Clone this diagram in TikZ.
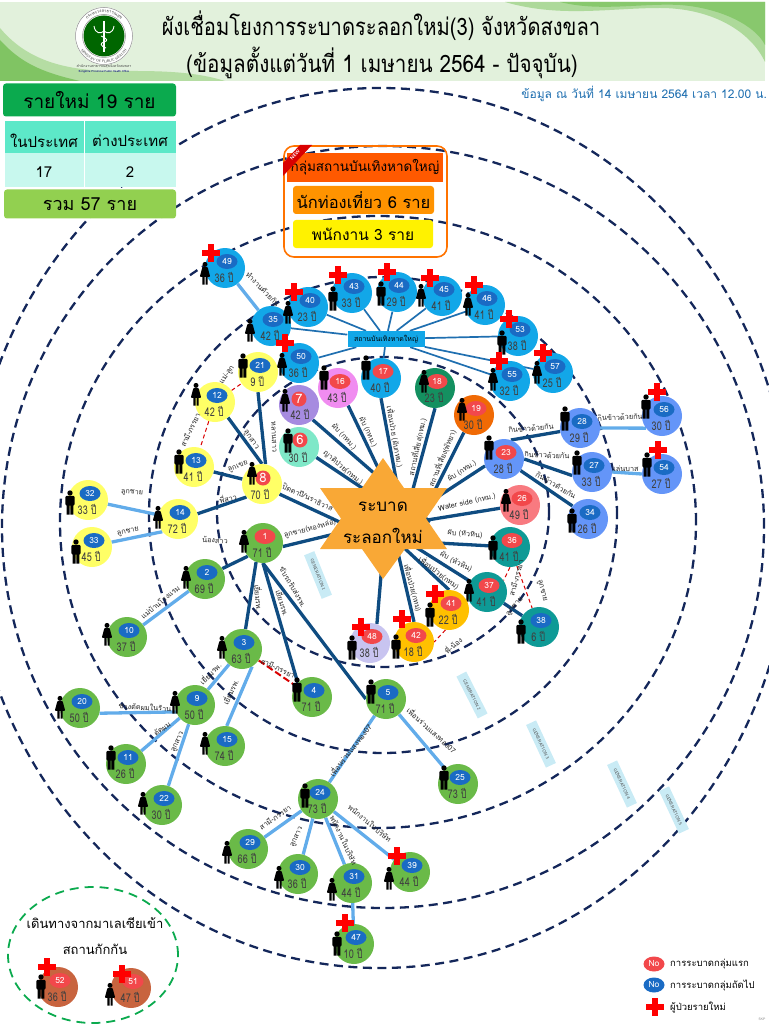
\documentclass[tikz,border=0pt]{standalone}
\usepackage{fontspec}
\setmainfont[Script=Thai]{Loma}
\usetikzlibrary{shapes.geometric,decorations.text}
\pgfdeclarelayer{back}\pgfdeclarelayer{mid}
\pgfsetlayers{back,mid,main}
\definecolor{navyd}{HTML}{14275A}
\definecolor{hdr}{HTML}{E2F1DC}
\definecolor{skyc}{HTML}{12A7E8}
\definecolor{yelc}{HTML}{FFFF66}
\definecolor{perc}{HTML}{6495F8}
\definecolor{grnc}{HTML}{6ABA48}
\definecolor{teac}{HTML}{0E9A96}
\definecolor{gldc}{HTML}{FFC000}
\definecolor{brnc}{HTML}{C8643F}
\definecolor{redn}{HTML}{F2484B}
\definecolor{blun}{HTML}{1A6BC4}
\definecolor{dkline}{HTML}{0F4C81}
\definecolor{ltline}{HTML}{62ACEA}
\definecolor{mdline}{HTML}{1F6FB0}
\definecolor{starc}{HTML}{F9A836}
\definecolor{gencol}{HTML}{C9EBF5}
\definecolor{boxnew}{HTML}{0BAA4E}
\definecolor{boxsum}{HTML}{92D050}
\definecolor{tblhd}{HTML}{5DE8C8}
\definecolor{tbldt}{HTML}{C8F8EE}
\definecolor{pnkc}{HTML}{F08CF0}
\definecolor{vioc}{HTML}{A68BE0}
\definecolor{minc}{HTML}{7FE8C8}
\definecolor{dgrc}{HTML}{149060}
\definecolor{ornc}{HTML}{F06A05}
\definecolor{salc}{HTML}{F87A80}
\definecolor{lavc}{HTML}{C8C4F0}
\tikzset{
 gen/.style={draw=navyd,line width=2.3pt,dash pattern=on 9pt off 5.5pt},
 casecirc/.style={circle,minimum size=40pt,inner sep=0pt},
 numoval/.style={ellipse,minimum width=21pt,minimum height=15pt,inner sep=0pt,text=white,font=\fontsize{8.5}{9}\selectfont},
 numdisc/.style={circle,minimum size=15pt,inner sep=0pt,text=white,fill=redn,font=\fontsize{13}{13}\selectfont},
 agetext/.style={inner sep=0pt,text=black!75,xscale=.76,font=\fontsize{12}{12}\selectfont},
 rellabel/.style={inner sep=0pt,text=black!85,font=\fontsize{7.3}{8}\selectfont},
 genlabel/.style={fill=gencol,minimum width=47pt,minimum height=11pt,inner sep=0pt,text=black!70,font=\sffamily\fontsize{4.5}{5}\selectfont},
 strong/.style={draw=dkline,line width=3.3pt},
 pale/.style={draw=ltline,line width=3.3pt},
 venue/.style={draw=mdline,line width=1.7pt},
 redlink/.style={draw=red!85!black,line width=1pt,dash pattern=on 4pt off 3pt},
 panel/.style={rounded corners=3pt,inner sep=0pt,text=black},
 manicon/.pic={\fill[black] (0,-9) circle (2.7);
   \fill[black,rounded corners=1.2pt] (-4.6,-6.2) rectangle (4.6,3.5);
   \fill[black] (-3.4,2) rectangle (-0.3,12.5) (0.3,2) rectangle (3.4,12.5);},
 womanicon/.pic={\fill[black] (0,-8.6) circle (2.5);
   \fill[black,rounded corners=0.8pt] (-2.6,-6) -- (2.6,-6) -- (5.2,3.8) -- (-5.2,3.8) -- cycle;
   \fill[black] (-2.6,3) rectangle (-0.5,11.5) (0.5,3) rectangle (2.6,11.5);},
 pluscross/.pic={\draw[red,line width=5.8pt] (-9,0) -- (9,0) (0,-9) -- (0,9);}
}
\newcounter{rl}
\newcommand{\casenode}[6]{%
 \node[casecirc,fill=#4] (c#1) at (#2,#3) {};
 \node[numoval,fill=#5,xshift=2pt,yshift=6.5pt] (n#1) at (c#1.center) {#1};
 \node[agetext,xshift=-1pt,yshift=-9.5pt] (a#1) at (c#1.center) {#6 ปี};}
\newcommand{\man}[2]{\pic at (#1,#2) {manicon};}
\newcommand{\woman}[2]{\pic at (#1,#2) {womanicon};}
\newcommand{\newcase}[2]{\pic at (#1,#2) {pluscross};}
\newcommand{\rel}[4]{\stepcounter{rl}\node[rellabel,rotate=#3] (rl\therl) at (#1,#2) {#4};}
\newcommand{\genbox}[4]{\node[genlabel,rotate=#3] (g#4) at (#1,#2) {GENERATION #4};}
\begin{document}
\begin{tikzpicture}[x=1pt,y=-1pt]
\useasboundingbox (0,0) rectangle (768,1024);
\clip (0,0) rectangle (768,1024);
% generation rings
\begin{pgfonlayer}{back}
\draw[gen] (383,512) ellipse [x radius=166pt,y radius=155pt];
\draw[gen] (383,515) ellipse [x radius=234pt,y radius=238pt];
\draw[gen] (378,522) ellipse [x radius=318pt,y radius=306pt];
\draw[gen] (383,527) ellipse [x radius=381pt,y radius=381pt];
\draw[gen] (380,528) ellipse [x radius=410pt,y radius=440pt];
\end{pgfonlayer}
% header
\fill[hdr] (0,2) rectangle (765,81);
\fill[grnc!55] (505,2) .. controls (560,18) and (610,8) .. (660,8) .. controls (710,8) and (750,30) .. (765,62) -- (765,2) -- cycle;
\fill[grnc!80] (560,2) .. controls (600,12) and (640,3) .. (680,5) .. controls (720,8) and (755,25) .. (765,45) -- (765,2) -- cycle;
\fill[grnc!50] (0,28) .. controls (25,58) and (60,70) .. (110,71) .. controls (150,71) and (190,70) .. (225,81) -- (0,81) -- cycle;
\fill[grnc!85] (0,40) .. controls (20,62) and (40,72) .. (80,81) -- (0,81) -- cycle;
% logo
\begin{scope}[shift={(104,36)},y=1pt]
 \fill[white] (0,0) circle (29);
 \draw[black!45,line width=.5pt] (0,0) circle (28.5);
 \draw[black!45,line width=.5pt] (0,0) circle (21.5);
 \fill[green!40!black] (0,0) circle (20.5);
 \draw[white,line width=1.3pt] (0,15) -- (0,-16);
 \draw[white,line width=.9pt] (-10,10) .. controls (-9,2) and (-3,2) .. (0,5) .. controls (3,2) and (9,2) .. (10,10);
 \draw[white,line width=.9pt] (-3,0) .. controls (4,-3) and (4,-5) .. (0,-6) .. controls (-4,-7) and (-4,-10) .. (2,-12);
 \path[decorate,decoration={text along path,text={|\fontsize{4.2}{4}\selectfont\color{black!75}|กระทรวงสาธารณสุข},text align=center}] (165:23.5) arc[start angle=165,end angle=15,radius=23.5pt];
 \path[decorate,decoration={text along path,text={|\sffamily\fontsize{3.6}{4}\selectfont\color{black!75}|MINISTRY OF PUBLIC HEALTH},text align=center}] (190:27) arc[start angle=190,end angle=350,radius=27pt];
\end{scope}
\node[inner sep=0pt,font=\fontsize{3.6}{4}\selectfont,text=black!75] (logoa) at (104,67) {สำนักงานสาธารณสุขจังหวัดสงขลา};
\node[inner sep=0pt,font=\fontsize{2.8}{3}\selectfont,text=blue!50!black] (logob) at (104,72) {Songkhla Provincial Public Health Office};
% titles
\node[inner sep=0pt,font=\fontsize{24}{26}\selectfont,text=black,xscale=.84] (title1) at (381,26) {ผังเชื่อมโยงการระบาดระลอกใหม่(3) จังหวัดสงขลา};
\node[inner sep=0pt,font=\fontsize{24}{26}\selectfont,text=black,xscale=.86] (title2) at (382,63) {(ข้อมูลตั้งแต่วันที่ 1 เมษายน 2564 - ปัจจุบัน)};
\node[inner sep=0pt,font=\fontsize{12}{13}\selectfont,text=mdline,anchor=east] (asof) at (767,94) {ข้อมูล ณ วันที่ 14 เมษายน 2564 เวลา 12.00 น.};
% summary panel
\node[panel,fill=boxnew,minimum width=173pt,minimum height=33pt,font=\fontsize{19}{21}\selectfont] (newp) at (89.5,100) {รายใหม่ 19 ราย};
\fill[tblhd] (5,121) rectangle (176,153);
\fill[tbldt] (5,153) rectangle (176,187);
\draw[white,line width=.6pt] (84,121) -- (84,187);
\node[inner sep=0pt,font=\fontsize{15}{17}\selectfont] (thd1) at (44,141) {ในประเทศ};
\node[inner sep=0pt,font=\fontsize{15}{17}\selectfont] (thd2) at (130,141) {ต่างประเทศ};
\node[inner sep=0pt,font=\fontsize{15}{17}\selectfont] (td1) at (44,172) {17};
\node[inner sep=0pt,font=\fontsize{15}{17}\selectfont] (td2) at (130,172) {2};
\node[panel,fill=boxsum,minimum width=172pt,minimum height=29pt,font=\fontsize{18}{20}\selectfont] (totp) at (90,204) {รวม 57 ราย};
% venue panel
\draw[orange!90!red,line width=1.6pt,rounded corners=10pt] (284,146) rectangle (447,257);
\node[fill=orange!70!red,minimum width=156pt,minimum height=29pt,inner sep=0pt,font=\fontsize{13.5}{15}\selectfont] (vtitle) at (365,167.5) {กลุ่มสถานบันเทิงหาดใหญ่};
\node[panel,fill=orange!85!yellow,minimum width=141pt,minimum height=28pt,font=\fontsize{16.5}{18}\selectfont] (vtour) at (363.5,200) {นักท่องเที่ยว 6 ราย};
\node[panel,fill=yellow,minimum width=140pt,minimum height=28pt,font=\fontsize{15.5}{17}\selectfont] (vstaff) at (363,234) {พนักงาน 3 ราย};
\fill[red!85!black] (283,163) -- (300,145) -- (312,145) -- (283,176) -- cycle;
\node[rotate=48,inner sep=0pt,text=white,font=\sffamily\bfseries\fontsize{5}{5}\selectfont] (newtag) at (295,155) {NEW};
% star
\fill[starc] (383,458) -- (404,488) -- (447,488) -- (426,518.5) -- (447,549) -- (405,549) -- (383,579) -- (362,549) -- (320,549) -- (341,518.5) -- (320,488) -- (362,488) -- cycle;
\node[inner sep=0pt,font=\fontsize{17}{18}\selectfont] (hub) at (383,507) {ระบาด};
\node[inner sep=0pt,font=\fontsize{17}{18}\selectfont] (hubb) at (383,536) {ระลอกใหม่};
\coordinate (huba) at (404,522);
\coordinate (hubc) at (384,527);
\coordinate (hubd) at (395,540);
\coordinate (hube) at (384,540);
\coordinate (hubf) at (372,537);
\coordinate (hubg) at (384,522);
\coordinate (hubh) at (413,522);
\coordinate (hubi) at (430,522);
\coordinate (hubk) at (419,522);
\coordinate (hubl) at (384,532);
\coordinate (hubm) at (384,529);
% venue box
\node[fill=skyc,minimum width=77pt,minimum height=16pt,inner sep=0pt,font=\fontsize{7}{8}\selectfont] (venuebox) at (386,339) {สถานบันเทิงหาดใหญ่};
% cases
\casenode{49}{225}{268}{skyc}{blun}{36}\woman{205}{273}\newcase{211}{253}
\casenode{35}{271}{326}{skyc}{blun}{42}\woman{250}{330}
\casenode{40}{308}{307}{skyc}{blun}{23}\woman{288}{312}\newcase{294}{292}
\casenode{43}{352}{293}{skyc}{blun}{33}\man{333}{298}\newcase{338}{275}
\casenode{44}{397}{292}{skyc}{blun}{29}\man{381}{293}\newcase{387}{272}
\casenode{45}{442}{296}{skyc}{blun}{41}\woman{421}{295}\newcase{430}{278}
\casenode{46}{485}{305}{skyc}{blun}{41}\woman{468}{304}\newcase{474}{285}
\casenode{53}{518}{336}{skyc}{blun}{38}\man{502}{342}\newcase{509}{319}
\casenode{57}{553}{373}{skyc}{blun}{25}\woman{537}{372}\newcase{543}{353}
\casenode{55}{510}{381}{skyc}{blun}{32}\woman{493}{379}\newcase{499}{361}
\casenode{50}{299}{363}{skyc}{blun}{36}\woman{282}{364}\newcase{285}{343}
\casenode{21}{258}{372}{yelc}{blun}{9}\man{243}{365}
\casenode{12}{215}{402}{yelc}{blun}{42}\woman{196}{394}
\casenode{16}{338}{388}{pnkc}{redn}{43}\man{324}{377}
\casenode{17}{381}{378}{skyc}{redn}{40}\man{366}{367}
\casenode{18}{435}{388}{dgrc}{redn}{23}\woman{424}{381}
\casenode{19}{474}{415}{ornc}{redn}{30}\woman{462}{409}
\node[casecirc,fill=vioc] (c7) at (299,405) {};
\node[numdisc] (n7) at (299,399) {7};
\node[agetext] (a7) at (300,414) {42 ปี};\woman{285}{400}
\node[casecirc,fill=minc] (c6) at (299,447) {};
\node[numdisc] (n6) at (300,440) {6};
\node[agetext] (a6) at (298,457) {30 ปี};\man{288}{440}
\node[casecirc,fill=yelc] (c8) at (262,484) {};
\node[numdisc] (n8) at (263,478) {8};
\node[agetext] (a8) at (260,494) {70 ปี};\woman{252}{473}
\casenode{13}{194}{467}{yelc}{blun}{41}\man{179}{461}
\casenode{23}{504}{459}{perc}{redn}{28}\man{489}{447}
\casenode{28}{580}{428}{perc}{blun}{29}\man{565}{418}
\casenode{56}{662}{416}{perc}{blun}{30}\man{646}{406}\newcase{657}{392}
\casenode{27}{592}{472}{perc}{blun}{33}\man{577}{462}
\casenode{54}{662}{474}{perc}{blun}{27}\man{647}{464}\newcase{658}{450}
\casenode{34}{588}{519}{perc}{blun}{26}\man{572}{520}
\casenode{26}{520}{505}{salc}{redn}{49}\woman{506}{500}
\casenode{36}{510}{547}{teac}{redn}{41}\man{493}{547}
\casenode{37}{487}{592}{teac}{redn}{41}\woman{469}{590}
\casenode{38}{539}{627}{teac}{blun}{6}\man{521}{631}
\casenode{41}{449}{610}{gldc}{redn}{22}\man{430}{614}\newcase{435}{594}
\casenode{42}{414}{642}{gldc}{redn}{18}\man{396}{646}\newcase{402}{619}
\casenode{48}{370}{643}{lavc}{redn}{38}\man{352}{647}\newcase{361}{627}
\casenode{32}{88}{500}{yelc}{blun}{33}\man{70}{502}
\casenode{33}{92}{547}{yelc}{blun}{45}\man{76}{551}
\casenode{14}{178}{519}{yelc}{blun}{72}\woman{158}{517}
\casenode{1}{263}{543}{grnc}{redn}{71}\woman{244}{541}
\casenode{2}{205}{579}{grnc}{blun}{69}\woman{186}{577}
\casenode{10}{127}{637}{grnc}{blun}{37}\woman{107}{634}
\casenode{3}{242}{649}{grnc}{blun}{63}\woman{222}{647}
\casenode{4}{312}{697}{grnc}{blun}{71}\man{297}{689}
\casenode{9}{195}{705}{grnc}{blun}{50}\woman{175}{702}
\casenode{20}{80}{708}{grnc}{blun}{50}\woman{60}{707}
\casenode{5}{386}{699}{grnc}{blun}{71}\man{371}{691}
\casenode{25}{458}{784}{grnc}{blun}{73}\man{444}{777}
\casenode{11}{126}{764}{grnc}{blun}{26}\man{111}{757}
\casenode{15}{225}{746}{grnc}{blun}{74}\woman{205}{743}
\casenode{22}{162}{805}{grnc}{blun}{30}\woman{143}{803}
\casenode{24}{318}{799}{grnc}{blun}{73}\man{305}{795}
\casenode{29}{248}{849}{grnc}{blun}{66}\woman{227}{852}
\casenode{30}{298}{874}{grnc}{blun}{36}\woman{279}{877}
\casenode{31}{352}{883}{grnc}{blun}{44}\woman{332}{889}
\casenode{39}{410}{872}{grnc}{blun}{44}\woman{389}{878}\newcase{397}{856}
\casenode{47}{354}{944}{grnc}{blun}{10}\man{337}{943}\newcase{345}{923}
\casenode{52}{58}{987}{brnc}{redn}{36}\man{41}{986}\newcase{47}{967}
\casenode{51}{131}{988}{brnc}{redn}{47}\woman{110}{994}\newcase{122}{974}
% connectors
\begin{pgfonlayer}{mid}
\foreach \a/\b in {c6.329/hubh,c7.313/hubi,c16.300/huba,c17.south/huba,c18.south/huba,c19.240/hubk,c8.330/hubf,c1.350/hubg,c23.200/hubl,c26/hubc,c36/hube,c37/hubc,c41.north/hubm,c42.north/hubd,c48.70/hube,
 c8.80/c21.south,c12.310/c8.north,c8/c13,c8.220/c14.15,c1.221/c2.31,c1.250/c3.80,c1.south/c4.north west,c1.south/c5.west,c23.70/c28.190,c23.east/c27.190,c23.325/c34.140,c37/c38}
 \draw[strong] (\a) -- (\b);
\foreach \a/\b in {c49/c35,c14/c32,c14.219/c33.14,c2/c10,c3/c9,c3.300/c15.85,c9.200/c20.345,c9/c11,c9/c22,c5/c24,c5/c25,c24/c29,c24/c30,c24/c31,c24/c39,c31/c47,c28.east/c56.217,c27.east/c54.west}
 \draw[pale] (\a) -- (\b);
\foreach \a in {c35,c40,c43,c44,c45,c46,c53,c57,c55,c50,c17}
 \draw[venue] (venuebox) -- (\a);
\foreach \a/\b in {c12/c21,c12/c13,c36.south/c37.35,c36/c38,c41.260/c42.east}
 \draw[redlink] (\a) -- (\b);
\draw[red!85!black,line width=2pt,dash pattern=on 7pt off 3pt] (c3) -- (c4);
\end{pgfonlayer}
% relation labels
\rel{263}{289}{-45}{ทำงานด้วยกัน}
\rel{227}{375}{55}{แม่-ลูก}
\rel{190}{430}{65}{สามี-ภรรยา}
\rel{274}{437}{-88}{หลานสาว}
\rel{251}{440}{-55}{ลูกสาว}
\rel{238}{467}{20}{ลูกเขย}
\rel{308}{497}{-25}{ปิดตาปี/นราธิวาส}
\rel{343}{468}{-40}{ญาติป่วย(กทม.)}
\rel{344}{437}{-47}{ผับ (กทม.)}
\rel{368}{432}{-65}{ผับ (กทม.)}
\rel{395}{437}{-80}{เพื่อนป่วย (ผับกทม.)}
\rel{417}{447}{78}{สถานที่เสี่ยง(กทม.)}
\rel{442}{458}{68}{สถานที่เสี่ยง(พัทยา)}
\rel{462}{471}{33}{ผับ (กทม.)}
\rel{531}{428}{5}{กินข้าวด้วยกัน}
\rel{547}{455}{-3}{กินข้าวด้วยกัน}
\rel{556}{485}{-30}{กินข้าวด้วยกัน}
\rel{620}{417}{3}{กินข้าวด้วยกัน}
\rel{626}{469}{0}{เล่นบาส}
\rel{467}{503}{13}{Water side (กทม.)}
\rel{465}{534}{-5}{ผับ (หัวหิน)}
\rel{456}{562}{-28}{ผับ (หัวหิน)}
\rel{439}{573}{-37}{เพื่อนป่วย(กทม)}
\rel{413}{588}{-75}{เพื่อนป่วย(กทม)}
\rel{453}{645}{40}{พี่-น้อง}
\rel{516}{578}{75}{สามี-ภรรยา}
\rel{542}{591}{-75}{ลูกชาย}
\rel{515}{607}{50}{ลูกชาย}
\rel{432}{730}{-42}{เพื่อนร่วมแสงทอง07}
\rel{350}{750}{52}{เพื่อนร่วมแสงทอง07}
\rel{310}{529}{15}{ลูกชาย(ทองหล่อ)}
\rel{293}{587}{-60}{ขับรถรับส่งรพ.}
\rel{283}{603}{-72}{เยี่ยมรพ.}
\rel{259}{598}{-85}{เยี่ยมรพ.}
\rel{215}{540}{-3}{น้องสาว}
\rel{228}{498}{10}{พี่สาว}
\rel{132}{493}{-5}{ลูกชาย}
\rel{128}{532}{12}{ลูกชาย}
\rel{160}{602}{40}{แม่บ้านโรงแรม}
\rel{278}{668}{-25}{สามี-ภรรยา}
\rel{210}{673}{45}{เยี่ยมรพ.}
\rel{230}{692}{65}{เยี่ยมรพ.}
\rel{145}{707}{-3}{ช่วงตัดผมในร้าน}
\rel{162}{729}{35}{ตัดผม}
\rel{178}{742}{65}{ลูกสาว}
\rel{275}{817}{35}{สามี-ภรรยา}
\rel{297}{837}{65}{ลูกสาว}
\rel{344}{840}{-65}{พนักงานในบริษัท}
\rel{370}{823}{-40}{พนักงานในบริษัท}
% generation tags
\genbox{318}{575}{-68}{1}
\genbox{472}{695}{-63}{2}
\genbox{541}{744}{-65}{3}
\genbox{622}{784}{-65}{4}
\genbox{674}{810}{-65}{5}
% quarantine group
\begin{pgfonlayer}{back}
\draw[boxnew,line width=1.8pt,dash pattern=on 9pt off 6pt] (93,955) ellipse [x radius=85pt,y radius=68pt];
\end{pgfonlayer}
\node[inner sep=0pt,font=\fontsize{13}{15}\selectfont] (qa) at (95,923) {เดินทางจากมาเลเซียเข้า};
\node[inner sep=0pt,font=\fontsize{13}{15}\selectfont] (qb) at (95,949) {สถานกักกัน};
% legend
\node[numoval,fill=redn] (lega) at (654,964) {No};
\node[numoval,fill=blun] (legb) at (654,985) {No};
\pic at (655,1007) {pluscross};
\node[inner sep=0pt,anchor=west,font=\fontsize{9.5}{11}\selectfont] (legc) at (670,964) {การระบาดกลุ่มแรก};
\node[inner sep=0pt,anchor=west,font=\fontsize{9.5}{11}\selectfont] (legd) at (670,985) {การระบาดกลุ่มถัดไป};
\node[inner sep=0pt,anchor=west,font=\fontsize{9.5}{11}\selectfont] (lege) at (670,1007) {ผู้ป่วยรายใหม่};
\node[inner sep=0pt,text=black!50,font=\sffamily\fontsize{3.5}{4}\selectfont] (skp) at (762,1019) {SKP};
\end{tikzpicture}
\end{document}
